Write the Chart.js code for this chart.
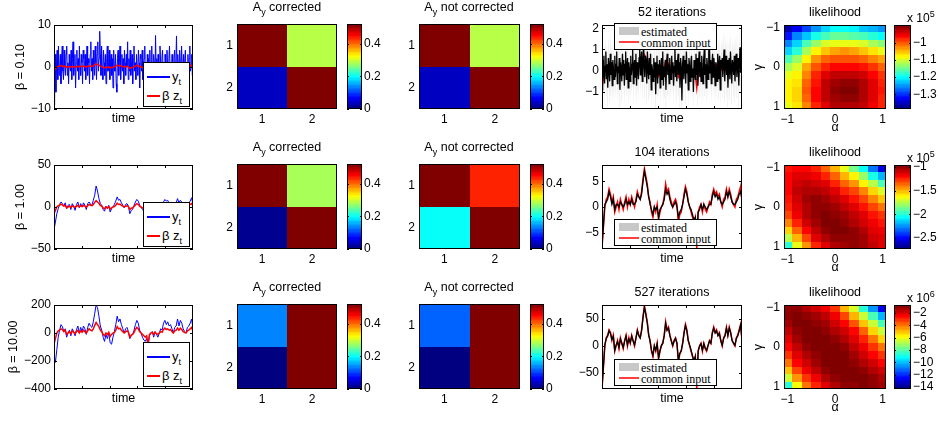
<!DOCTYPE html>
<html>
<head>
<meta charset="utf-8">
<script src="https://cdn.jsdelivr.net/npm/chart.js@4/dist/chart.umd.min.js"></script>
<style>
body { margin: 0; width: 938px; height: 421px; position: relative; overflow: hidden; background: #fff;
       font-family: "Liberation Sans", Arial, sans-serif; }
canvas { position: absolute; }
.txt { position: absolute; color: #000; white-space: nowrap; line-height: 1; font-size: 12.5px; }
.txt sub { font-size: 9px; vertical-align: -4px; line-height: 0; }
.txt sup { font-size: 9px; vertical-align: 5px; line-height: 0; }
.lg { position: absolute; background: #fff; border: 1px solid #000; box-sizing: border-box; }
.sw { position: absolute; }
</style>
</head>
<body>
<script>
// ---- data ----
const timeMax = 500;
const timeTicks = [100, 200, 300, 400];

const betaLabels = ['β = 0.10', 'β = 1.00', 'β = 10.00'];
const iterLabels = ['52 iterations', '104 iterations', '527 iterations'];

// observed y_t (blue) and common input beta*z_t (red)
const ytR1 = [-9, -4, 3, -6, 1, 4, -3, 5, -2, 0, 3, -4, 2, 5, -1, -3, 4, 0, -2, 3,
  5, -2, 1, -4, 3, 0, -1, 4, -3, 2, 6, -2, 0, 3, -5, 1, 4, -1, 2, -3,
  5, 0, -2, 3, 1, -4, 4, 2, -1, 3, -3, 0, 5, -2, 2, 1, -4, 3, 6, -1,
  2, -3, 4, 0, -2, 5, 1, -3, 3, 6, -1, 2, 8.5, 3, -2, 5, 0, -3, 4, 1,
  -2, 3, -4, 2, 5, -1, 0, 4, -3, 1, 3, -2, 2, -5, 4, 0, -1, 3, -4, -6,
  2, 4, -2, 1, 5, -3, 0, 3, -1, 2, -4, 4, 1, -2, 3, 0, 6, -3, 2, -1,
  4, -2, 0, 3, -4, 2, 5, -1, 1, -3, 3, 0, -2, 4, 1, -5, 3, 2, -1, 4,
  -3, 0, 2, 5, -2, 1, -4, 3, 0, 2, -1, 4, -3, 1, 5, -2, 0, 3, 1, -3,
  7.5, -1, 2, -4, 3, 0, -2, 5, 1, -3, 2, 4, -1, 0, -4, 3, 1, -2, 4, 0,
  -3, 2, 5, -1, 1, -2, 3, 0, -4, 2, 4, -1, 1, 7.4, -2, 3, 0, -3, 4, 1,
  -2, 5, 0, -1, 3, -3, 2, 4, -2, 1, 0, 3, -4, 2, 5, -1, 0, 3, -2, 2];
const bzR1 = [-0.8, -0.4, 0.0, 0.15, 0.2, 0.35, 0.25, 0.1, 0.2, -0.1, 0.0, 0.1, -0.05, 0.15, 0.05, -0.05, 0.1, 0.2, 0.0, 0.15,
  0.05, 0.2, 0.1, 0.0, 0.15, 0.3, 0.2, 0.15, 0.3, 0.55, 0.75, 0.6, 0.45, 0.2, 0.1, -0.1, -0.2, 0.0, -0.1, 0.05,
  -0.25, -0.1, 0.0, 0.05, 0.2, 0.45, 0.3, 0.35, 0.2, 0.1, 0.0, 0.1, 0.15, 0.05, -0.3, -0.15, -0.1, 0.05, 0.25, 0.4,
  0.3, 0.1, 0.0, -0.1, -0.2, -0.3, -0.2, -0.8, -0.1, 0.0, 0.05, -0.1, 0.05, -0.05, -0.1, 0.0, 0.1, 0.05, 0.25, 0.35,
  0.25, 0.3, 0.2, 0.25, 0.1, 0.0, 0.15, 0.2, 0.35, 0.2, 0.35, 0.25, 0.1, 0.05, 0.0, 0.15, 0.2, 0.3, 0.4, 0.1];
const ytR2 = [-27, -18, -8, -2, 3, 6, 4, 1, 5, -2, 2, 3, -3, 4, 1, -4, 3, 6, -1, 4,
  0, 5, 2, -3, 4, 6, 3, 2, 8, 14, 25, 19, 10, 4, 2, -3, -5, 1, -2, 2,
  -6, -2, 0, 3, 7, 12, 8, 9, 5, 2, -1, 3, 4, 1, -8, -4, -3, 2, 6, 9,
  7, 2, 0, -3, -5, -7, -4, -10, -2, 1, 2, -3, 2, -1, -3, 0, 3, 2, 6, 9,
  7, 8, 4, 6, 2, -1, 4, 5, 10, 5, 8, 6, 2, 1, 0, 4, 5, 7, 11, 3];
const bzR2 = [-8, -4, 0, 1.5, 2, 3.5, 2.5, 1, 2, -1, 0, 1, -0.5, 1.5, 0.5, -0.5, 1, 2, 0, 1.5,
  0.5, 2, 1, 0, 1.5, 3, 2, 1.5, 3, 5.5, 7.5, 6, 4.5, 2, 1, -1, -2, 0, -1, 0.5,
  -2.5, -1, 0, 0.5, 2, 4.5, 3, 3.5, 2, 1, 0, 1, 1.5, 0.5, -3, -1.5, -1, 0.5, 2.5, 4,
  3, 1, 0, -1, -2, -3, -2, -8, -1, 0, 0.5, -1, 0.5, -0.5, -1, 0, 1, 0.5, 2.5, 3.5,
  2.5, 3, 2, 2.5, 1, 0, 1.5, 2, 3.5, 2, 3.5, 2.5, 1, 0.5, 0, 1.5, 2, 3, 4, 1];
const ytR3 = [-160, -210, -120, -30, 20, 60, 45, 10, 30, -30, 0, 20, -20, 30, 10, -20, 25, 50, 0, 40,
  10, 50, 30, -10, 40, 70, 50, 40, 80, 140, 200, 180, 120, 50, 20, -30, -60, -10, -40, 0,
  -70, -80, -30, 10, 60, 120, 80, 100, 60, 30, 0, 30, 40, 10, -40, -20, -10, 20, 60, 90,
  70, 20, 0, -30, -50, -60, -40, -90, -20, 0, 10, -30, 10, -10, -30, 0, 30, 20, 70, 90,
  60, 80, 50, 60, 30, 0, 40, 50, 100, 50, 90, 70, 30, 10, 0, 40, 50, 70, 100, 30];
const bzR3 = [-80, -40, 0, 15, 20, 30, 25, 10, 20, -10, 0, 10, -5, 15, 5, -5, 10, 20, 0, 15,
  5, 20, 10, 0, 15, 30, 20, 15, 30, 55, 75, 60, 45, 20, 10, -10, -20, 0, -10, 5,
  -25, -10, 0, 5, 20, 45, 30, 35, 20, 10, 0, 10, 15, 5, -30, -15, -10, 5, 25, 40,
  30, 10, 0, -10, -20, -30, -20, -80, -10, 0, 5, -10, 5, -5, -10, 0, 10, 5, 25, 35,
  25, 30, 20, 25, 10, 0, 15, 20, 35, 20, 35, 25, 10, 5, 0, 15, 20, 30, 40, 10];

// estimated common input (black) and width of the grey band
const estR1 = [-0.9, 0.5, -0.3, 0.7, -0.6, 0.2, 0.9, -0.4, 0.3, -0.8, 0.6, 0.1, -0.5, 0.8, -0.2, 0.4, -0.7, 0.5, 0.0, -0.4,
  0.7, -0.3, 0.3, 0.9, -0.6, 0.2, -0.1, 0.6, -0.9, 0.4, 0.1, -0.5, 0.8, -0.2, 0.5, -0.7, 0.3, 0.9, -0.4, 0.2,
  0.6, -0.8, 0.4, 0.0, -0.5, 0.7, -0.2, 0.3, 1.0, -0.6, 0.2, 0.5, -0.3, 0.8, -0.7, 0.4, 0.1, -0.4, 0.6, 1.1,
  -0.2, 0.5, 0.9, -0.5, 0.3, 1.4, 0.2, -0.3, 0.7, 0.4, -0.6, 0.9, 0.1, -0.4, 0.6, -0.2, 0.8, -0.9, 0.3, 0.0,
  -0.5, 0.6, -0.3, 0.4, -1.1, 0.2, 0.7, -0.6, 0.3, -0.2, 0.5, -0.8, 0.1, 0.6, -0.4, 0.9, -0.7, 0.2, -0.3, 0.5,
  -0.9, 0.4, 0.8, -0.2, 0.3, -0.6, 0.6, 0.0, -0.4, 0.7, -0.1, 0.4, -0.7, 0.2, 1.2, -0.3, 0.5, -0.5, 0.3, 0.8,
  -0.2, 0.4, -0.8, 0.6, 0.1, -1.4, 0.3, 0.7, -0.4, 0.2, 0.5, -0.6, 0.9, -0.1, 0.3, -0.9, 0.6, 0.2, -0.5, 0.4,
  0.7, -0.3, 0.1, -1.0, 0.5, 0.3, -0.4, 0.8, -0.2, 0.6, -0.7, 0.2, 0.9, -0.3, 0.4, -0.5, 0.7, 0.1, -0.6, 0.5,
  1.0, -0.2, 0.3, -0.8, 0.6, 0.2, -0.4, 0.9, 1.3, -0.1, 0.5, -0.6, 0.3, 0.8, -0.3, 0.6, 0.1, -0.7, 0.4, 0.2,
  -0.5, 0.8, 0.3, -0.4, 0.7, -0.9, 0.5, 0.1, 0.6, -0.3, 0.4, 1.0, -0.5, 0.3, 0.7, -0.2, 0.5, -0.8, 0.2, 0.6,
  -0.4, 0.9, 0.1, -0.6, 0.5, 0.3, -0.2, 0.7, -0.5, 0.4, 0.8, -0.3, 0.2, 0.6, -0.7, 0.4, 1.1, -0.1, 0.5, 0.2];
const estR2 = [-7.5, -3.5, 0.5, 1, 1.5, 3, 2, 0.5, 1.5, -0.5, 0.5, 0.5, 0, 1, 0.5, 0, 0.5, 1.5, 0.5, 1,
  0.5, 1.5, 0.5, 0.5, 1, 2.5, 2, 1.5, 2.5, 5, 7, 5.5, 4, 2, 0.5, -0.5, -1.5, 0, -0.5, 0,
  -2, -0.5, 0, 0.5, 1.5, 3.5, 2.5, 3, 1.5, 0.5, 0, 0.5, 1, 0, -2, -1, -0.5, 0.5, 2, 3.5,
  2.5, 1, 0, -0.5, -1.5, -2.5, -2, -5, -1, -0.5, 0.5, -0.5, 0.5, 0, -0.5, 0, 0.5, 0.5, 2, 3,
  2, 2.5, 1.5, 2, 1, 0.5, 1, 1.5, 3, 2, 3, 2, 1, 0.5, 0.5, 1, 1.5, 2.5, 3, 1.5];
const estR3 = [-78, -38, 2, 14, 18, 28, 23, 12, 18, -8, 2, 8, -3, 13, 5, -3, 9, 18, 2, 13,
  6, 18, 9, 2, 14, 28, 19, 15, 28, 52, 72, 58, 43, 21, 9, -8, -18, 0, -8, 4,
  -22, -9, 1, 5, 19, 42, 29, 33, 19, 9, 1, 9, 14, 5, -27, -14, -9, 4, 23, 38,
  28, 10, 1, -8, -18, -27, -19, -70, -9, 0, 4, -8, 4, -4, -8, 1, 9, 5, 23, 33,
  24, 28, 19, 23, 10, 1, 14, 19, 33, 19, 33, 24, 10, 5, 1, 14, 19, 28, 38, 11];
const bandWidth = [1.0, 0.5, 5];

const ytRows = [ytR1, ytR2, ytR3];
const bzRows = [bzR1, bzR2, bzR3];
const estRows = [estR1, estR2, estR3];

const ylimTs = [[-10, 10], [-50, 50], [-400, 200]];
const yticksTs = [[-10, 0, 10], [-50, 0, 50], [-400, -200, 0, 200]];
const ylimEst = [[-1.8, 2.15], [-8.2, 8.2], [-80, 76]];
const yticksEst = [[-1, 0, 1, 2], [-5, 0, 5], [-50, 0, 50]];

// A_y matrices (row 1..2, col 1..2)
const ayCorrected = [
  [[0.52, 0.29], [0.04, 0.52]],
  [[0.52, 0.28], [0.012, 0.52]],
  [[0.137, 0.52], [0.007, 0.52]]
];
const ayNotCorrected = [
  [[0.52, 0.29], [0.04, 0.52]],
  [[0.52, 0.44], [0.2, 0.52]],
  [[0.116, 0.52], [0.005, 0.52]]
];
const ayIndex = [1, 2];
const ayLim = [0, 0.523];
const ayTicks = [0, 0.2, 0.4];

// likelihood surfaces: rows gamma = -1..1, columns alpha = -1..1
const paramGrid = [-1, -0.8, -0.6, -0.4, -0.2, 0, 0.2, 0.4, 0.6, 0.8, 1];
const paramTicks = [-1, 0, 1];
const likeR1 = [
  [-1.36, -1.33, -1.29, -1.25, -1.22, -1.20, -1.20, -1.21, -1.23, -1.24, -1.25],
  [-1.31, -1.26, -1.23, -1.19, -1.17, -1.15, -1.15, -1.16, -1.17, -1.18, -1.20],
  [-1.26, -1.22, -1.17, -1.13, -1.10, -1.09, -1.09, -1.09, -1.10, -1.12, -1.14],
  [-1.22, -1.18, -1.12, -1.08, -1.05, -1.04, -1.03, -1.04, -1.05, -1.07, -1.09],
  [-1.17, -1.13, -1.08, -1.03, -1.01, -1.00, -1.00, -1.00, -1.01, -1.02, -1.04],
  [-1.12, -1.10, -1.04, -1.00, -0.975, -0.965, -0.96, -0.96, -0.97, -0.985, -1.01],
  [-1.09, -1.08, -1.02, -0.98, -0.95, -0.935, -0.93, -0.93, -0.94, -0.96, -0.985],
  [-1.08, -1.07, -1.01, -0.97, -0.935, -0.915, -0.905, -0.91, -0.925, -0.945, -0.975],
  [-1.08, -1.06, -1.00, -0.965, -0.93, -0.91, -0.90, -0.90, -0.92, -0.945, -0.97],
  [-1.08, -1.06, -1.01, -0.965, -0.935, -0.915, -0.905, -0.91, -0.925, -0.945, -0.975],
  [-1.09, -1.07, -1.02, -0.975, -0.945, -0.925, -0.92, -0.92, -0.935, -0.955, -0.98]
];
const likeR2 = [
  [-1.23, -1.19, -1.19, -1.24, -1.35, -1.49, -1.67, -1.85, -2.06, -2.29, -2.55],
  [-1.19, -1.14, -1.14, -1.17, -1.24, -1.35, -1.49, -1.62, -1.81, -2.02, -2.20],
  [-1.19, -1.10, -1.08, -1.10, -1.15, -1.24, -1.35, -1.44, -1.60, -1.76, -1.93],
  [-1.19, -1.08, -1.05, -1.05, -1.08, -1.15, -1.24, -1.31, -1.42, -1.56, -1.70],
  [-1.21, -1.10, -1.03, -1.01, -1.03, -1.08, -1.15, -1.21, -1.31, -1.42, -1.53],
  [-1.24, -1.14, -1.05, -1.00, -1.00, -1.03, -1.08, -1.14, -1.23, -1.31, -1.39],
  [-1.31, -1.17, -1.07, -1.00, -0.96, -1.00, -1.03, -1.08, -1.15, -1.23, -1.28],
  [-1.42, -1.24, -1.12, -1.03, -0.98, -0.98, -1.00, -1.05, -1.10, -1.17, -1.23],
  [-1.56, -1.35, -1.19, -1.08, -1.01, -0.98, -0.98, -1.01, -1.07, -1.14, -1.17],
  [-1.76, -1.49, -1.30, -1.15, -1.07, -1.01, -1.00, -1.00, -1.03, -1.10, -1.14],
  [-1.99, -1.67, -1.44, -1.26, -1.14, -1.07, -1.03, -1.01, -1.03, -1.08, -1.14]
];
const likeR3 = [
  [-1.11, -1.11, -1.38, -1.79, -2.33, -3.15, -4.78, -6.41, -8.59, -10.49, -12.67],
  [-0.97, -0.84, -0.97, -1.24, -1.65, -2.33, -3.42, -4.78, -6.55, -8.32, -10.22],
  [-1.24, -0.84, -0.70, -0.97, -1.24, -1.79, -2.47, -3.56, -5.05, -6.55, -8.18],
  [-1.65, -0.97, -0.70, -0.70, -0.97, -1.38, -1.92, -2.60, -3.83, -5.19, -6.55],
  [-2.06, -1.24, -0.84, -0.70, -0.70, -0.97, -1.52, -2.06, -2.88, -3.96, -5.19],
  [-2.60, -1.65, -1.11, -0.70, -0.70, -0.70, -1.11, -1.65, -2.33, -3.15, -4.10],
  [-3.15, -2.06, -1.38, -0.97, -0.70, -0.70, -0.84, -1.24, -1.79, -2.47, -3.15],
  [-3.96, -2.60, -1.79, -1.24, -0.84, -0.70, -0.70, -0.97, -1.38, -1.92, -2.47],
  [-5.05, -3.42, -2.33, -1.65, -1.11, -0.84, -0.70, -0.70, -1.11, -1.52, -1.92],
  [-6.55, -4.51, -3.15, -2.20, -1.52, -1.11, -0.84, -0.70, -0.84, -1.11, -1.52],
  [-8.59, -5.87, -4.10, -2.88, -2.06, -1.52, -1.11, -0.97, -0.84, -0.97, -1.24]
];
const likeRows = [likeR1, likeR2, likeR3];
const likeLim = [[-1.386, -0.897], [-2.73, -0.96], [-14.3, -0.7]];
const likeTicks = [[-1.3, -1.2, -1.1, -1], [-2.5, -2, -1.5, -1], [-14, -12, -10, -8, -6, -4, -2]];
const likeExp = [5, 5, 6];

// ---- helpers ----
Chart.defaults.font.family = '"Liberation Sans", Arial, sans-serif';
Chart.defaults.font.size = 12;
Chart.defaults.color = '#000';

const fmt = v => String(+(+v).toFixed(4)).replace('-', '\u2212');

function jet(t) {
    const k = Math.min(63, Math.max(0, Math.floor(t * 64)));
    const u = k / 63;
    const c = x => Math.round(255 * Math.min(1, Math.max(0, x)));
    return `rgb(${c(1.5 - Math.abs(4 * u - 3))},${c(1.5 - Math.abs(4 * u - 2))},${c(1.5 - Math.abs(4 * u - 1))})`;
}

function place(box) {
    const c = document.createElement('canvas');
    const W = box.l + box.w + box.r, H = box.t + box.h + box.b;
    c.width = W; c.height = H;
    c.style.left = (box.x - box.l) + 'px';
    c.style.top = (box.y - box.t) + 'px';
    c.style.width = W + 'px';
    c.style.height = H + 'px';
    document.body.appendChild(c);
    return c;
}

function baseOptions(box, right) {
    return {
        responsive: false, animation: false, devicePixelRatio: 1, events: [],
        layout: { padding: right ? { top: box.t, left: box.l, right: 0, bottom: box.b }
                                 : { top: box.t, right: box.r, left: 0, bottom: 0 } },
        plugins: { legend: { display: false }, tooltip: { enabled: false }, title: { display: false } }
    };
}

function axis(min, max, ticks, size, o = {}) {
    return {
        type: 'linear', min, max, reverse: !!o.reverse, position: o.position,
        display: o.display !== false,
        grid: { display: false, drawTicks: false },
        border: { display: false },
        ticks: { display: o.labels !== false, padding: o.pad ?? 3, maxRotation: 0, autoSkip: false, callback: v => fmt(v) },
        title: o.title ? { display: true, text: o.title, padding: 0, font: { size: 12.5 } } : { display: false },
        afterBuildTicks: s => { s.ticks = ticks.map(v => ({ value: v })); },
        afterFit: s => {
            if (s.isHorizontal()) s.height = size; else s.width = size;
            s.paddingLeft = s.paddingRight = s.paddingTop = s.paddingBottom = 0;
        }
    };
}

// black box with inward ticks, matlab style
function frame(len) {
    return {
        id: 'frame',
        afterDatasetsDraw(chart) {
            const { ctx, chartArea: a } = chart;
            ctx.save();
            ctx.strokeStyle = '#000';
            ctx.lineWidth = 1;
            if (len > 0) {
                Object.values(chart.scales).forEach(s => {
                    if (!s.options.display) return;
                    s.ticks.forEach(t => {
                        const p = Math.round(s.getPixelForValue(t.value)) + 0.5;
                        ctx.beginPath();
                        if (s.isHorizontal()) {
                            ctx.moveTo(p, a.bottom); ctx.lineTo(p, a.bottom - len);
                            ctx.moveTo(p, a.top); ctx.lineTo(p, a.top + len);
                        } else {
                            ctx.moveTo(a.left, p); ctx.lineTo(a.left + len, p);
                            ctx.moveTo(a.right, p); ctx.lineTo(a.right - len, p);
                        }
                        ctx.stroke();
                    });
                });
            }
            ctx.strokeRect(a.left + 0.5, a.top + 0.5, a.width - 1, a.height - 1);
            ctx.restore();
        }
    };
}

// image cells drawn through the x / y scales
function heatLayer(cells, xs, ys, lim) {
    return {
        id: 'heat',
        beforeDatasetsDraw(chart) {
            const { ctx, chartArea: a, scales: { x, y } } = chart;
            const dx = xs.length > 1 ? xs[1] - xs[0] : 1;
            const dy = ys.length > 1 ? ys[1] - ys[0] : 1;
            ctx.save();
            ctx.beginPath(); ctx.rect(a.left, a.top, a.width, a.height); ctx.clip();
            cells.forEach((row, i) => row.forEach((v, j) => {
                const x0 = Math.round(x.getPixelForValue(xs[j] - dx / 2));
                const x1 = Math.round(x.getPixelForValue(xs[j] + dx / 2));
                const y0 = Math.round(y.getPixelForValue(ys[i] - dy / 2));
                const y1 = Math.round(y.getPixelForValue(ys[i] + dy / 2));
                ctx.fillStyle = jet((v - lim[0]) / (lim[1] - lim[0]));
                ctx.fillRect(Math.min(x0, x1), Math.min(y0, y1), Math.abs(x1 - x0), Math.abs(y1 - y0));
            }));
            ctx.restore();
        }
    };
}

function barLayer(lim) {
    return {
        id: 'cbar',
        beforeDatasetsDraw(chart) {
            const { ctx, chartArea: a, scales: { y } } = chart;
            for (let k = 0; k < 64; k++) {
                const y0 = Math.round(y.getPixelForValue(lim[0] + (lim[1] - lim[0]) * k / 64));
                const y1 = Math.round(y.getPixelForValue(lim[0] + (lim[1] - lim[0]) * (k + 1) / 64));
                ctx.fillStyle = jet((k + 0.5) / 64);
                ctx.fillRect(a.left, y1, a.width, y0 - y1);
            }
        }
    };
}

const pts = arr => arr.map((v, i) => ({ x: i * timeMax / (arr.length - 1), y: v }));
const line = (arr, color, width) => ({ data: pts(arr), borderColor: color, borderWidth: width, pointRadius: 0, tension: 0, fill: false });

function tsChart(box, datasets, ylim, yticks, ytitle) {
    const opts = baseOptions(box);
    opts.scales = {
        x: axis(0, timeMax, timeTicks, box.b, { labels: false, title: 'time' }),
        y: axis(ylim[0], ylim[1], yticks, box.l, { title: ytitle })
    };
    new Chart(place(box), { type: 'line', data: { datasets }, options: opts, plugins: [frame(3)] });
}

function heatChart(box, cells, xs, ys, lim, xr, yr, xticks, yticks, xtitle, ytitle) {
    const opts = baseOptions(box);
    opts.scales = {
        x: axis(xr[0], xr[1], xticks, box.b, { title: xtitle }),
        y: axis(yr[0], yr[1], yticks, box.l, { reverse: true, title: ytitle, pad: 4 })
    };
    new Chart(place(box), { type: 'scatter', data: { datasets: [] }, options: opts,
        plugins: [heatLayer(cells, xs, ys, lim), frame(0)] });
}

function colorbar(box, lim, ticks) {
    const opts = baseOptions(box, true);
    opts.scales = {
        x: axis(0, 1, [], 0, { display: false }),
        y: axis(lim[0], lim[1], ticks, box.r, { position: 'right', pad: 2 })
    };
    new Chart(place(box), { type: 'scatter', data: { datasets: [] }, options: opts,
        plugins: [barLayer(lim), frame(2)] });
}

function text(html, x, y, css) {
    const d = document.createElement('div');
    d.className = 'txt';
    d.innerHTML = html;
    d.style.left = x + 'px';
    d.style.top = y + 'px';
    if (css) d.style.cssText += css;
    document.body.appendChild(d);
    return d;
}

function rect(cls, x, y, w, h, css) {
    const d = document.createElement('div');
    d.className = cls;
    d.style.cssText = `left:${x}px;top:${y}px;width:${w}px;height:${h}px;` + (css || '');
    document.body.appendChild(d);
    return d;
}

// ---- build the 3 x 5 grid ----
for (let r = 0; r < 3; r++) {
    const top = 25 + 140 * r;

    // column 1: y_t and beta z_t
    tsChart({ x: 54, y: top, w: 139, h: 84, l: r === 2 ? 48 : 41, r: 4, t: 8, b: 17 },
        [line(bzRows[r], '#ff0000', 1.5), line(ytRows[r], '#0000ff', 1)],
        ylimTs[r], yticksTs[r], betaLabels[r]);

    // columns 2 and 3: A_y matrices with colour bars
    heatChart({ x: 237, y: top - 1, w: 100, h: 85, l: 16, r: 4, t: 8, b: 18 },
        ayCorrected[r], ayIndex, ayIndex, ayLim, [0.5, 2.5], [0.5, 2.5], ayIndex, ayIndex);
    colorbar({ x: 347, y: top - 1, w: 15, h: 85, l: 2, r: 24, t: 8, b: 4 }, ayLim, ayTicks);
    heatChart({ x: 419, y: top - 1, w: 101, h: 85, l: 16, r: 4, t: 8, b: 18 },
        ayNotCorrected[r], ayIndex, ayIndex, ayLim, [0.5, 2.5], [0.5, 2.5], ayIndex, ayIndex);
    colorbar({ x: 530, y: top - 1, w: 14, h: 85, l: 2, r: 24, t: 8, b: 4 }, ayLim, ayTicks);

    // column 4: estimated vs common input
    const sd = bandWidth[r];
    tsChart({ x: 602, y: top, w: 140, h: 84, l: 26, r: 4, t: 8, b: 17 },
        [line(estRows[r], '#000000', 1.3),
         line(bzRows[r], '#ff0000', 1.5),
         { data: pts(estRows[r].map(v => v + sd)), borderWidth: 0, pointRadius: 0, fill: '+1', backgroundColor: 'rgba(0,0,0,0.07)' },
         { data: pts(estRows[r].map(v => v - sd)), borderWidth: 0, pointRadius: 0, fill: false }],
        ylimEst[r], yticksEst[r]);

    // column 5: likelihood surface
    heatChart({ x: 784, y: top, w: 102, h: 84, l: 33, r: 8, t: 8, b: 26 },
        likeRows[r], paramGrid, paramGrid, likeLim[r], [-1.07, 1.07], [-1.07, 1.07], paramTicks, paramTicks, 'α', 'γ');
    colorbar({ x: 894, y: top, w: 17, h: 84, l: 2, r: 27, t: 8, b: 4 }, likeLim[r], likeTicks[r]);

    // titles
    text('A<sub>y</sub> corrected', 287, top - 24, 'transform:translateX(-50%)');
    text('A<sub>y</sub> not corrected', 469, top - 24, 'transform:translateX(-50%)');
    text(iterLabels[r], 672, top - 19, 'transform:translateX(-50%)');
    text('likelihood', 835, top - 19, 'transform:translateX(-50%)');
    text('x 10<sup>' + likeExp[r] + '</sup>', 907, top - 13, 'font-size:12px');

    // legend, column 1
    const lg = top + 37;
    rect('lg', 143, lg, 47, 45);
    rect('sw', 147, lg + 14, 23, 2, 'background:#0000ff');
    text('y<sub>t</sub>', 172, lg + 8, 'font-size:13px');
    rect('sw', 147, lg + 33, 13, 2, 'background:#ff0000');
    text('β z<sub>t</sub>', 162, lg + 27, 'font-size:13px');

    // legend, column 4
    const lg4 = r === 0 ? top - 2 : top + 54;
    rect('lg', 614, lg4, 103, 27);
    rect('sw', 619, lg4 + 4, 20, 8, 'background:#c8c8c8');
    text('estimated', 641, lg4 + 3, 'font-family:"Liberation Serif",serif;font-size:12px');
    rect('sw', 619, lg4 + 18, 20, 2, 'background:#ff4040');
    text('common input', 641, lg4 + 14, 'font-family:"Liberation Serif",serif;font-size:12px');
}
</script>
</body>
</html>
